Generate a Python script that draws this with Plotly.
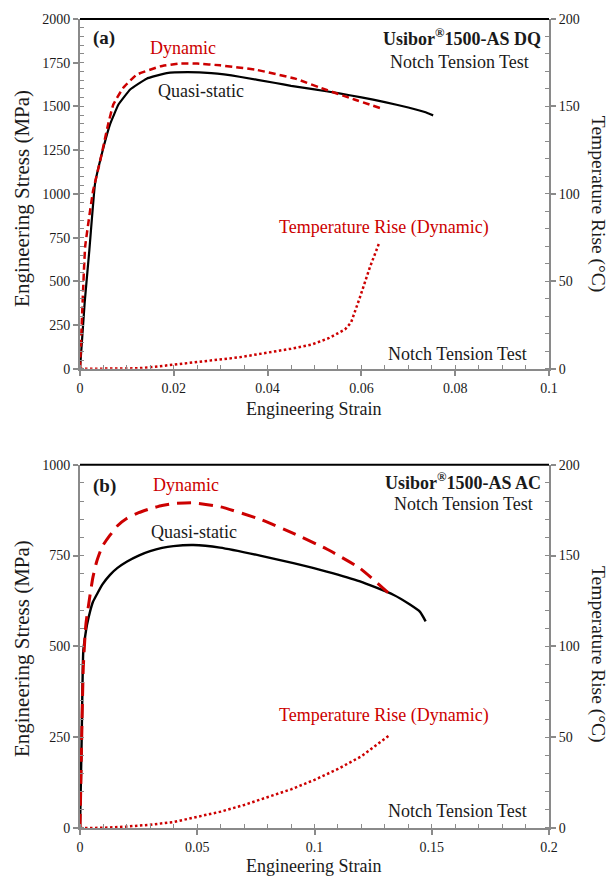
import plotly.graph_objects as go

# ---------------- data ----------------
# (a) Usibor 1500-AS DQ, notch tension
qs_a_strain = [0, 0.0010, 0.0020, 0.0032, 0.0050, 0.0064, 0.0082, 0.0107, 0.0142, 0.0185,
               0.0230, 0.0280, 0.0340, 0.0417, 0.0450, 0.0500, 0.0550, 0.0600, 0.0650,
               0.0700, 0.0735, 0.0753]
qs_a_stress = [0, 380, 680, 1057, 1265, 1398, 1511, 1597, 1659, 1691,
               1696, 1690, 1670, 1634, 1618, 1598, 1576, 1552, 1525,
               1494, 1468, 1449]

dyn_a_strain = [0, 0.0011, 0.0028, 0.0043, 0.0060, 0.0071, 0.0092, 0.0121, 0.0171, 0.0213,
                0.0250, 0.0299, 0.0375, 0.0459, 0.0526, 0.0585, 0.0644]
dyn_a_stress = [0, 697, 1019, 1189, 1398, 1511, 1606, 1682, 1729, 1746,
                1745, 1735, 1710, 1659, 1594, 1540, 1487]

temp_a_strain = [0, 0.005, 0.010, 0.0123, 0.016, 0.020, 0.0283, 0.034, 0.040, 0.045,
                 0.0493, 0.053, 0.0565, 0.0578, 0.0597, 0.0618, 0.0638]
temp_a_rise = [0, 0, 0.1, 0.3, 1.2, 2.5, 4.9, 6.6, 9.1, 11.5,
               13.8, 17.5, 22.5, 26.5, 41, 58, 72]

# (b) Usibor 1500-AS AC, notch tension
qs_b_strain = [0, 0.0007, 0.0014, 0.0021, 0.0030, 0.0043, 0.0055, 0.0071, 0.0095, 0.0128,
               0.0160, 0.0199, 0.0250, 0.0299, 0.0350, 0.0398, 0.0483, 0.0597, 0.0768,
               0.0910, 0.1052, 0.1194, 0.1336, 0.1407, 0.1450, 0.1474]
qs_b_stress = [0, 240, 487, 523, 560, 596, 622, 642, 670, 697,
               716, 733, 750, 762, 771, 776, 779, 772, 750,
               729, 706, 679, 642, 615, 595, 569]

dyn_b_strain = [0, 0.0007, 0.0014, 0.0025, 0.0043, 0.0055, 0.0071, 0.0095, 0.0128, 0.0160,
                0.0199, 0.0250, 0.0299, 0.0350, 0.0398, 0.0483, 0.0600, 0.0768, 0.0910,
                0.1052, 0.1194, 0.1315]
dyn_b_stress = [0, 240, 441, 560, 642, 690, 733, 775, 806, 832,
                852, 868, 879, 888, 893, 895, 884, 850, 811,
                768, 715, 647]

temp_b_strain = [0, 0.010, 0.020, 0.030, 0.040, 0.050, 0.060, 0.070, 0.080, 0.090,
                 0.100, 0.110, 0.120, 0.1322]
temp_b_rise = [0, 0.1, 0.8, 1.8, 3.3, 6.0, 9.0, 12.7, 17.0, 21.3,
               26.5, 32.5, 39.5, 51.3]

# ---------------- styling ----------------
W, H = 614, 876
ML, MR, MT, MB = 80, 65, 14, 48
SERIF = "Liberation Serif, Times New Roman, serif"
RED = "#cc0000"
GREY = "#8a8a8a"
INK = "#1a1a1a"

PW, PH = W - ML - MR, H - MT - MB


def px(x):
    return (x - ML) / PW


def py(y):
    return (H - MB - y) / PH


dom_a = [py(366), 1.0]
dom_b = [0.0, py(462.5)]

fig = go.Figure()

# panel (a)
fig.add_trace(go.Scatter(x=qs_a_strain, y=qs_a_stress, mode="lines",
                         line=dict(color="black", width=2.2, shape="spline", smoothing=0.3),
                         xaxis="x", yaxis="y", showlegend=False))
fig.add_trace(go.Scatter(x=dyn_a_strain, y=dyn_a_stress, mode="lines",
                         line=dict(color=RED, width=2.5, dash="7px,4px", shape="spline", smoothing=0.3),
                         xaxis="x", yaxis="y", showlegend=False))
fig.add_trace(go.Scatter(x=temp_a_strain, y=temp_a_rise, mode="lines",
                         line=dict(color=RED, width=2.5, dash="2.5px,2.5px"),
                         xaxis="x", yaxis="y2", showlegend=False))

# panel (b)
fig.add_trace(go.Scatter(x=qs_b_strain, y=qs_b_stress, mode="lines",
                         line=dict(color="black", width=2.4, shape="spline", smoothing=0.5),
                         xaxis="x2", yaxis="y3", showlegend=False))
fig.add_trace(go.Scatter(x=dyn_b_strain, y=dyn_b_stress, mode="lines",
                         line=dict(color=RED, width=3, dash="14px,8px", shape="spline", smoothing=0.5),
                         xaxis="x2", yaxis="y3", showlegend=False))
fig.add_trace(go.Scatter(x=temp_b_strain, y=temp_b_rise, mode="lines",
                         line=dict(color=RED, width=2.5, dash="2.5px,2.5px"),
                         xaxis="x2", yaxis="y4", showlegend=False))

tickfont = dict(family=SERIF, size=14, color=INK)


def axis(rng, dtick, minor_dtick, **kw):
    d = dict(range=rng, dtick=dtick, tick0=0, showline=True, linecolor=GREY, linewidth=2,
             ticks="outside", ticklen=5, tickwidth=1.5, tickcolor=GREY,
             showgrid=False, zeroline=False, tickfont=tickfont,
             minor=dict(ticks="inside", ticklen=4, tickwidth=1.2, tickcolor=GREY,
                        dtick=minor_dtick, tick0=0, showgrid=False))
    d.update(kw)
    return d


fig.update_layout(
    width=W, height=H,
    margin=dict(l=ML, r=MR, t=MT, b=MB),
    plot_bgcolor="white", paper_bgcolor="white",
    font=dict(family=SERIF),
    xaxis=axis([0, 0.1], 0.02, 0.005, domain=[0, 1], anchor="y"),
    yaxis=axis([0, 2000], 250, 50, domain=dom_a, anchor="x"),
    yaxis2=axis([0, 200], 50, 10, overlaying="y", side="right", anchor="x"),
    xaxis2=axis([0, 0.2], 0.05, 0.01, domain=[0, 1], anchor="y3"),
    yaxis3=axis([0, 1000], 250, 50, domain=dom_b, anchor="x2"),
    yaxis4=axis([0, 200], 50, 10, overlaying="y3", side="right", anchor="x2"),
)

# black top frame edge on both panels
fig.add_shape(type="line", xref="x domain", yref="y domain", x0=0, x1=1, y0=1, y1=1,
              line=dict(color="black", width=2))
fig.add_shape(type="line", xref="x2 domain", yref="y3 domain", x0=0, x1=1, y0=1, y1=1,
              line=dict(color="black", width=2))


def note(text, x, y, anchor="left", color=INK, size=18, angle=0):
    fig.add_annotation(text=text, x=px(x), y=py(y), xref="paper", yref="paper",
                       xanchor=anchor, yanchor="middle", showarrow=False, textangle=angle,
                       font=dict(family=SERIF, size=size, color=color))


# panel (a) labels
note("<b>(a)</b>", 91, 33, size=19)
note("Dynamic", 148, 43, color=RED)
note("<b>Usibor<sup>®</sup>1500-AS DQ</b>", 543, 33, anchor="right")
note("Notch Tension Test", 531, 57, anchor="right")
note("Quasi-static", 156, 86)
note("Temperature Rise (Dynamic)", 277, 224, color=RED)
note("Notch Tension Test", 529, 351, anchor="right")

# panel (b) labels
note("<b>(b)</b>", 91, 484, size=19)
note("Dynamic", 151, 483, color=RED)
note("<b>Usibor<sup>®</sup>1500-AS AC</b>", 543, 479, anchor="right")
note("Notch Tension Test", 535, 502, anchor="right")
note("Quasi-static", 149, 530)
note("Temperature Rise (Dynamic)", 277, 715, color=RED)
note("Notch Tension Test", 529, 811, anchor="right")

# axis titles
note("Engineering Strain", 313, 406, anchor="center")
note("Engineering Strain", 313, 866, anchor="center")
note("Engineering Stress (MPa)", 22, 195, anchor="center", size=21, angle=-90)
note("Engineering Stress (MPa)", 22, 648, anchor="center", size=21, angle=-90)
note("Temperature Rise (°C)", 598, 200, anchor="center", size=19.5, angle=90)
note("Temperature Rise (°C)", 598, 653, anchor="center", size=19.5, angle=90)

fig.write_html("out.html")
